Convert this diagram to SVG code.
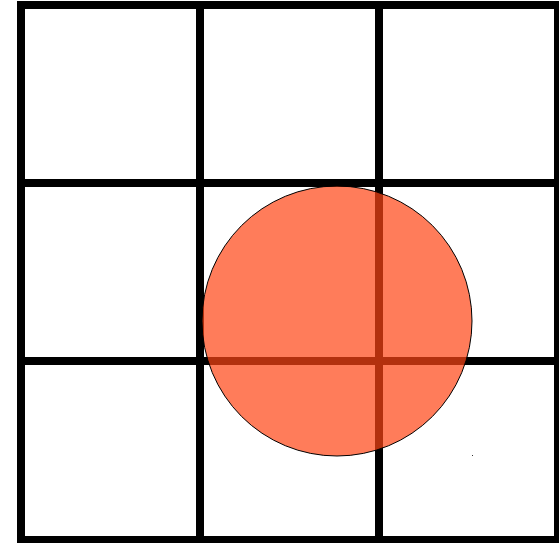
<svg xmlns="http://www.w3.org/2000/svg" width="559" height="543" viewBox="0 0 559 543">
  <style>
    .grid { stroke: #000; stroke-width: 8; fill: none; }
    .ball { fill: #FF4514; fill-opacity: 0.7; stroke: #000; stroke-width: 1; }
  </style>
  <rect width="559" height="543" fill="#fff"/>
  <g id="connectors">
    <rect class="grid" x="21" y="5" width="537" height="535"/>
    <line class="grid" x1="200" y1="5" x2="200" y2="540"/>
    <line class="grid" x1="379" y1="5" x2="379" y2="540"/>
    <line class="grid" x1="21" y1="183" x2="558" y2="183"/>
    <line class="grid" x1="21" y1="361" x2="558" y2="361"/>
  </g>
  <g id="circle">
    <circle class="ball" cx="337" cy="321" r="135"/>
  </g>
  <g id="dot">
    <rect x="472" y="455" width="1" height="1" fill="#333"/>
  </g>
</svg>
